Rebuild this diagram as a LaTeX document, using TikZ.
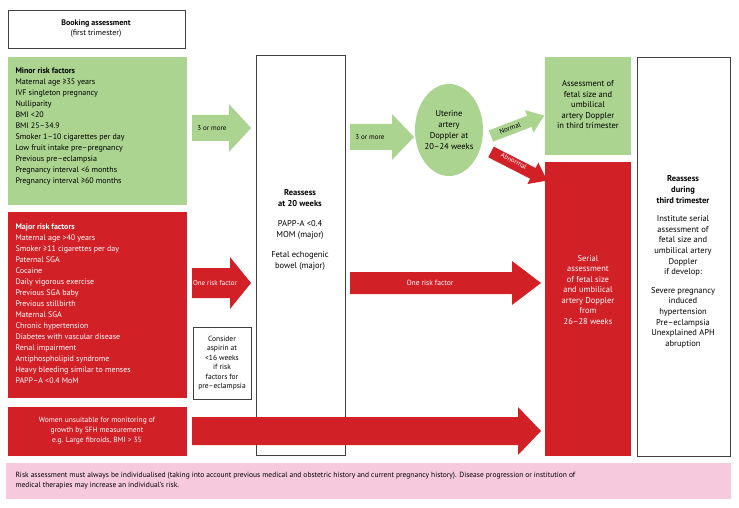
\documentclass[tikz,border=0pt]{standalone}
\usepackage{fontspec}
\setmainfont{PT Sans}
\usetikzlibrary{shapes.geometric,shapes.arrows}
\definecolor{gr}{RGB}{170,212,143}
\definecolor{rd}{RGB}{210,32,39}
\definecolor{pk}{RGB}{246,202,220}
\newcommand{\fatarr}[8]{% name x1 x2 yc shafthalf headhalf headstart color
\fill[#8] (#2,#4-#5) -- (#7,#4-#5) -- (#7,#4-#6) -- (#3,#4) -- (#7,#4+#6) -- (#7,#4+#5) -- (#2,#4+#5) -- cycle;
\coordinate (#1) at ({(#2+#7)/2},#4);}
\begin{document}
\begin{tikzpicture}[x=1pt,y=-1pt,
 box/.style={draw=black!75,line width=0.8pt,fill=white},
 txt/.style={font=\fontsize{8}{10.5}\selectfont,align=center},
 lst/.style={font=\fontsize{8}{11}\selectfont,align=left,anchor=north west}]
\useasboundingbox (0,0) rectangle (739,508);
\fill[white] (0,0) rectangle (739,508);
% boxes
\node[box,minimum width=177,minimum height=38,anchor=north west,inner sep=0] (book) at (8,10) {};
\node[txt,anchor=north] at (96,16) {\textbf{Booking assessment}\\(first trimester)};
\fill[gr] (8,57) rectangle (187,205);
\node[lst] (minor) at (12,64) {\textbf{Minor risk factors}\\Maternal age ≥35 years\\IVF singleton pregnancy\\Nulliparity\\BMI <20\\BMI 25–34.9\\Smoker 1–10 cigarettes per day\\Low fruit intake pre–pregnancy\\Previous pre–eclampsia\\Pregnancy interval <6 months\\Pregnancy interval ≥60 months};
\fill[rd] (8,212) rectangle (187,398);
\node[lst,text=white] (major) at (12,220) {\textbf{Major risk factors}\\Maternal age >40 years\\Smoker ≥11 cigarettes per day\\Paternal SGA\\Cocaine\\Daily vigorous exercise\\Previous SGA baby\\Previous stillbirth\\Maternal SGA\\Chronic hypertension\\Diabetes with vascular disease\\Renal impairment\\Antiphospholipid syndrome\\Heavy bleeding similar to menses\\PAPP–A <0.4 MoM};
\fill[rd] (8,407) rectangle (187,456);
\node[txt,text=white,font=\fontsize{7.5}{10}\selectfont] (women) at (97,431) {Women unsuitable for monitoring of\\growth by SFH measurement\\e.g. Large fibroids, BMI > 35};
\node[box,minimum width=89,minimum height=400,anchor=north west,inner sep=0] (r20) at (256,55) {};
\node[txt,font=\fontsize{8.5}{11}\selectfont] at (300,230) {\textbf{Reassess}\\\textbf{at 20 weeks}\\[9pt]PAPP-A <0.4\\MOM (major)\\[9pt]Fetal echogenic\\bowel (major)};
\node[box,minimum width=58,minimum height=72,anchor=north west,inner sep=0] (asp) at (193,327) {};
\node[txt,font=\fontsize{7.5}{9.5}\selectfont] at (222,363) {Consider\\aspirin at\\<16 weeks\\if risk\\factors for\\pre–eclampsia};
\node[ellipse,fill=gr,minimum width=68,minimum height=92,inner sep=0] (ua) at (449,130) {};
\node[txt,font=\fontsize{8.5}{11}\selectfont] at (449,130) {Uterine\\artery\\Doppler at\\20–24 weeks};
\fill[gr] (545,57) rectangle (631,155);
\node[txt,font=\fontsize{8.5}{10.5}\selectfont] (ass) at (588,105) {Assessment of\\fetal size and\\umbilical\\artery Doppler\\in third trimester};
\fill[rd] (545,162) rectangle (631,456);
\node[txt,font=\fontsize{8.5}{10.5}\selectfont,text=white] (ser) at (588,290) {Serial\\assessment\\of fetal size\\and umbilical\\artery Doppler\\from\\26–28 weeks};
\node[box,minimum width=93,minimum height=399,anchor=north west,inner sep=0] (r3) at (637,57) {};
\node[txt,font=\fontsize{8.5}{10.6}\selectfont] at (683,262) {\textbf{Reassess}\\\textbf{during}\\\textbf{third trimester}\\[8pt]Institute serial\\assessment of\\fetal size and\\umbilical artery\\Doppler\\if develop:\\[8pt]Severe pregnancy\\induced\\hypertension\\Pre–eclampsia\\Unexplained APH\\abruption};
\fill[pk] (6,463) rectangle (731,499);
\node[font=\fontsize{7.5}{10}\selectfont,align=left,anchor=west] (note) at (12,481) {Risk assessment must always be individualised (taking into account previous medical and obstetric history and current pregnancy history). Disease progression or institution of\\medical therapies may increase an individual’s risk.};
% arrows
\fatarr{a1}{192}{251}{128}{13}{24}{229}{gr}
\node[txt,font=\fontsize{7}{9}\selectfont] at (212,128) {3 or more};
\fatarr{a2}{350}{414}{137}{13}{23}{392}{gr}
\node[txt,font=\fontsize{7}{9}\selectfont] at (370,137) {3 or more};
\fatarr{a3}{192}{251}{283}{15}{26}{230}{rd}
\node[txt,font=\fontsize{7}{9}\selectfont,text=white] at (215,283) {One risk factor};
\fatarr{a4}{350}{541}{283}{11}{22}{512}{rd}
\node[txt,font=\fontsize{7.5}{9}\selectfont,text=white] at (430,283) {One risk factor};
\fatarr{a5}{192}{541}{431}{14}{24}{518}{rd}
\fill[gr,rotate around={21:(491,136)}] (491,130) -- (532,130) -- (532,124) -- (548,136) -- (532,148) -- (532,142) -- (491,142) -- cycle;
\node[font=\fontsize{7}{8}\selectfont,rotate=21,inner sep=0] (nor) at (510,128) {Normal};
\fill[rd,rotate around={-27:(491,152)}] (491,146) -- (538,146) -- (538,140) -- (554,152) -- (538,164) -- (538,158) -- (491,158) -- cycle;
\node[font=\fontsize{6.8}{8}\selectfont,rotate=-27,text=white,inner sep=0] (abn) at (514,161) {Abnormal};
\end{tikzpicture}
\end{document}
